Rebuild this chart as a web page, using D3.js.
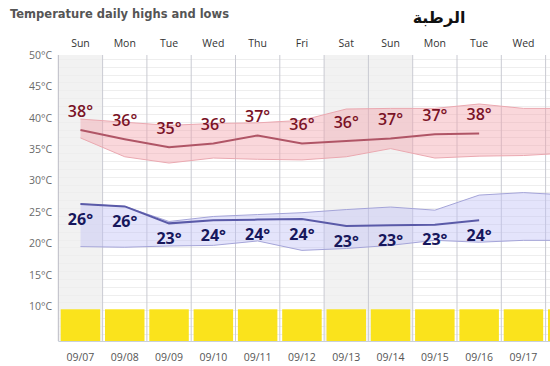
<!DOCTYPE html>
<html><head><meta charset="utf-8">
<script src="https://cdn.jsdelivr.net/npm/d3@7"></script>
<style>body{margin:0;background:#fff}svg{display:block}</style>
</head><body>
<svg id="c" width="550" height="366"></svg>
<script>
const days = ["Sun","Mon","Tue","Wed","Thu","Fri","Sat","Sun","Mon","Tue","Wed"];
const dates = ["09/07","09/08","09/09","09/10","09/11","09/12","09/13","09/14","09/15","09/16","09/17"];
const highAvg = [38.05,36.6,35.3,35.9,37.2,35.9,36.3,36.7,37.4,37.5];
const highLabels = [38,36,35,36,37,36,36,37,37,38];
const highUpper = [39.8,39.3,38.8,39.1,39.2,39.6,41.4,41.5,41.5,42.2,41.5,41.5];
const highLower = [36.8,33.8,32.8,33.6,33.4,33.3,33.8,35.1,33.6,33.9,34.0,34.4];
const lowAvg = [26.3,25.9,23.2,23.7,23.8,23.9,22.8,22.9,23.0,23.7];
const lowLabels = [26,26,23,24,24,24,23,23,23,24];
const lowUpper = [26.3,25.9,23.5,24.3,24.6,24.9,25.4,25.8,25.3,27.7,28.1,27.7];
const lowLower = [19.5,19.4,19.6,19.7,20.4,18.9,19.2,19.7,20.5,20.2,20.5,20.5];
const yTicks = [50,45,40,35,30,25,20,15,10];
const title = "Temperature daily highs and lows";
const place = "الرطبة";

const svg = d3.select("#c");
const pLeft = 58.3, colW = 44.3, pTop = 55, pBottom = 341;
const nCols = 12;
// index -> column centre
const cx = d3.scaleLinear().domain([-0.5, nCols - 0.5]).range([pLeft, pLeft + colW*nCols]);
const colStart = i => cx(i - 0.5);
const y = d3.scaleLinear().domain([10,50]).range([306.3,55]);

const defs = svg.append("defs");
defs.append("clipPath").attr("id","plot").append("rect")
  .attr("x",pLeft).attr("y",pTop).attr("width",550-pLeft).attr("height",pBottom-pTop);

const g = svg.append("g").attr("clip-path","url(#plot)");
// weekend shading
g.selectAll("rect.we").data(d3.range(days.length).filter(i => days[i]==="Sat"||days[i]==="Sun"))
  .join("rect").attr("x",i=>colStart(i)).attr("y",pTop).attr("width",colW).attr("height",pBottom-pTop)
  .attr("fill","#f2f2f2");
// horizontal grid
const minor = d3.range(4.375, 50.01, 1.25);
g.selectAll("line.h").data(minor).join("line")
  .attr("x1",pLeft).attr("x2",550).attr("y1",d=>Math.round(y(d))+0.5).attr("y2",d=>Math.round(y(d))+0.5)
  .attr("stroke",d=>Math.abs(d%5)<0.01?"#dedede":"#eeeeee").attr("stroke-width",1);
// vertical grid
g.selectAll("line.v").data(d3.range(nCols+1)).join("line")
  .attr("x1",i=>colStart(i)).attr("x2",i=>colStart(i)).attr("y1",pTop).attr("y2",pBottom)
  .attr("stroke","#c9cad2").attr("stroke-width",1);

// bands
const area = (up,lo) => d3.area().x((d,i)=>cx(i)).y0((d,i)=>y(lo[i])).y1((d,i)=>y(up[i]))(up);
const edge = arr => d3.line().x((d,i)=>cx(i)).y(d=>y(d))(arr);
g.append("path").attr("d",area(highUpper,highLower)).attr("fill","rgba(243,160,170,0.42)");
g.append("path").attr("d",edge(highUpper)).attr("fill","none").attr("stroke","#eaa8b0").attr("stroke-width",1);
g.append("path").attr("d",edge(highLower)).attr("fill","none").attr("stroke","#eaa8b0").attr("stroke-width",1);
g.append("path").attr("d",area(lowUpper,lowLower)).attr("fill","rgba(190,190,245,0.42)");
g.append("path").attr("d",edge(lowUpper)).attr("fill","none").attr("stroke","#a4a4d8").attr("stroke-width",1);
g.append("path").attr("d",edge(lowLower)).attr("fill","none").attr("stroke","#a4a4d8").attr("stroke-width",1);
// lines
g.append("path").attr("d",edge(highAvg)).attr("fill","none").attr("stroke","#b05566").attr("stroke-width",2);
g.append("path").attr("d",edge(lowAvg)).attr("fill","none").attr("stroke","#5a5aa8").attr("stroke-width",2);

// yellow bars
g.selectAll("rect.bar").data(d3.range(nCols)).join("rect")
  .attr("x",i=>colStart(i)+2.4).attr("y",309.3).attr("width",colW-4.8).attr("height",pBottom-309.3)
  .attr("fill","#fae31c");

// labels
const font = "'Open Sans', 'DejaVu Sans', sans-serif";
svg.selectAll("text.hl").data(highLabels).join("text")
  .attr("x",(d,i)=>cx(i)).attr("y",(d,i)=>y(highAvg[i])-19).attr("dy","0.36em")
  .attr("text-anchor","middle").attr("font-family",font).attr("font-size",16).attr("font-weight",600)
  .attr("fill","#7a1226").text(d=>d+"°");
svg.selectAll("text.ll").data(lowLabels).join("text")
  .attr("x",(d,i)=>cx(i)).attr("y",(d,i)=>y(lowAvg[i])+15).attr("dy","0.36em")
  .attr("text-anchor","middle").attr("font-family",font).attr("font-size",16).attr("font-weight",700)
  .attr("fill","#17175c").text(d=>d+"°");

// axes frame
svg.append("line").attr("x1",pLeft).attr("x2",pLeft).attr("y1",pTop).attr("y2",pBottom).attr("stroke","#c0c0c8");
svg.append("line").attr("x1",pLeft).attr("x2",550).attr("y1",pBottom+0.5).attr("y2",pBottom+0.5).attr("stroke","#c8d0dc");

// y axis labels
svg.selectAll("text.yt").data(yTicks).join("text")
  .attr("x",52).attr("y",d=>y(d)).attr("dy","0.35em").attr("text-anchor","end")
  .attr("font-family",font).attr("font-size",10.5).attr("fill","#6a6a6a").text(d=>d+"°C");
// day labels
svg.selectAll("text.day").data(days).join("text")
  .attr("x",(d,i)=>cx(i)).attr("y",43).attr("dy","0.35em").attr("text-anchor","middle")
  .attr("font-family",font).attr("font-size",10.5).attr("fill","#333").text(d=>d);
// date labels
svg.selectAll("text.date").data(dates).join("text")
  .attr("x",(d,i)=>cx(i)).attr("y",357).attr("dy","0.35em").attr("text-anchor","middle")
  .attr("font-family",font).attr("font-size",10.5).attr("fill","#555").text(d=>d);

// title
svg.append("text").attr("x",10).attr("y",14).attr("dy","0.35em")
  .attr("font-family","'DejaVu Sans', sans-serif").attr("font-size",11.5).attr("font-weight",700)
  .attr("fill","#555").text(title);
svg.append("text").attr("x",439).attr("y",17).attr("dy","0.35em").attr("text-anchor","middle")
  .attr("font-family","'DejaVu Sans', 'Noto Sans', sans-serif").attr("font-size",16).attr("font-weight",700)
  .attr("fill","#111").text(place);
</script>
</body></html>
